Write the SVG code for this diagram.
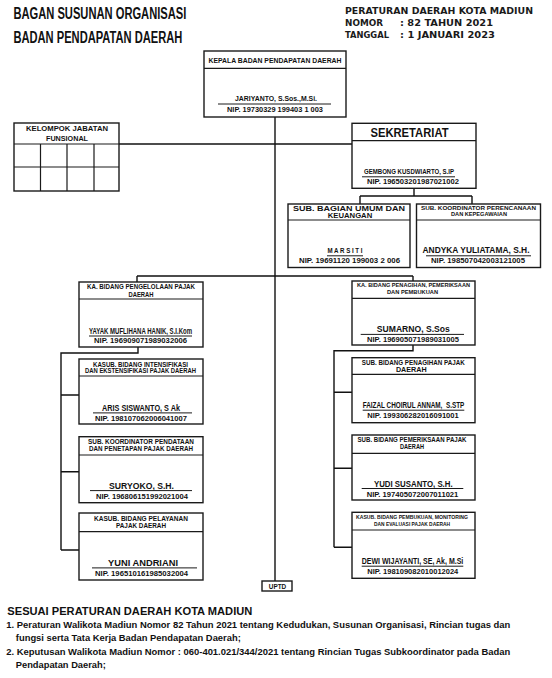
<svg xmlns="http://www.w3.org/2000/svg" width="552" height="678" viewBox="0 0 552 678">
<style>
  .bx{fill:#fff;stroke:#1a1a1a;stroke-width:1.4}
  .dv{stroke:#1a1a1a;stroke-width:1.2;fill:none}
  .ul{stroke:#1a1a1a;stroke-width:1}
  .cn{stroke:#111;stroke-width:1.4;fill:none}
  text{font-family:"Liberation Sans",Arial,sans-serif;font-weight:bold;fill:#111}
  .c{text-anchor:middle}
  .h{font-size:6.5px}
  .nm{font-size:9px}
  .nip{font-size:7.5px}
  .ttl{font-size:16px}
  .rh{font-family:"DejaVu Sans",Verdana,sans-serif;font-size:9.5px;fill:#1a1a1a}
  .ft{font-size:9px}
</style>
<rect width="552" height="678" fill="#fff"/>

<g id="titles">
  <text class="ttl" x="13.4" y="19" textLength="173" lengthAdjust="spacingAndGlyphs">BAGAN SUSUNAN ORGANISASI</text>
  <text class="ttl" x="13.4" y="43.3" textLength="169" lengthAdjust="spacingAndGlyphs">BADAN PENDAPATAN DAERAH</text>
  <text class="rh" x="345" y="14" textLength="188" lengthAdjust="spacingAndGlyphs">PERATURAN DAERAH KOTA MADIUN</text>
  <text class="rh" x="345" y="26" textLength="38" lengthAdjust="spacingAndGlyphs">NOMOR</text>
  <text class="rh" x="400" y="26" textLength="93" lengthAdjust="spacingAndGlyphs">: 82 TAHUN 2021</text>
  <text class="rh" x="345" y="38.3" textLength="44" lengthAdjust="spacingAndGlyphs">TANGGAL</text>
  <text class="rh" x="400" y="38.3" textLength="95" lengthAdjust="spacingAndGlyphs">: 1 JANUARI 2023</text>
</g>

<g id="connectors">
  <path class="cn" d="M275 117 V581"/>
  <path class="cn" d="M119 144 H352"/>
  <path class="cn" d="M414 188 V196 M360 196 H472 M360 196 V204 M472 196 V204"/>
  <path class="cn" d="M137 276 H413 M137 276 V282 M413 276 V281"/>
  <path class="cn" d="M138 347 V353 H61 V550 M61 395 H79 M61 471.7 H79 M61 550 H79"/>
  <path class="cn" d="M413 345 V350.7 H334 V547.3 M334 392.3 H352 M334 468.3 H352 M334 547.3 H352"/>
</g>

<g id="kepala">
  <rect class="bx" x="204" y="51" width="142" height="66"/>
  <path class="dv" d="M204 68.3 H346"/>
  <text class="c" x="275" y="63.3" font-size="7.5" textLength="133" lengthAdjust="spacingAndGlyphs">KEPALA BADAN PENDAPATAN DAERAH</text>
  <text class="c" x="276" y="100.7" font-size="8" textLength="82" lengthAdjust="spacingAndGlyphs">JARIYANTO, S.Sos.,M.Si.</text>
  <line class="ul" x1="218" y1="104" x2="331" y2="104"/>
  <text class="c nip" x="275" y="112.3" textLength="96" lengthAdjust="spacingAndGlyphs">NIP. 19730329 199403 1 003</text>
</g>

<g id="kelompok">
  <rect class="bx" x="14" y="123" width="105" height="68"/>
  <path class="dv" d="M14 144 H119 M14 167 H119 M40.5 144 V191 M67 144 V191 M94 144 V191"/>
  <text class="c" x="67" y="130.7" font-size="7.5" textLength="82" lengthAdjust="spacingAndGlyphs">KELOMPOK JABATAN</text>
  <text class="c" x="67" y="140.7" font-size="7.5" textLength="42" lengthAdjust="spacingAndGlyphs">FUNSIONAL</text>
</g>

<g id="sekretariat">
  <rect class="bx" x="352" y="123.3" width="124" height="65"/>
  <path class="dv" d="M352 140.7 H476"/>
  <text class="c" x="409.5" y="136.7" font-size="12.5" textLength="78" lengthAdjust="spacingAndGlyphs">SEKRETARIAT</text>
  <text class="c" x="409" y="174.3" font-size="8" textLength="90" lengthAdjust="spacingAndGlyphs">GEMBONG KUSDWIARTO, S.IP</text>
  <line class="ul" x1="362" y1="176.8" x2="455" y2="176.8"/>
  <text class="c nip" x="413" y="184" textLength="92" lengthAdjust="spacingAndGlyphs">NIP. 196503201987021002</text>
</g>

<g id="sub-umum">
  <rect class="bx" x="288" y="204" width="122" height="63.5"/>
  <path class="dv" d="M288 220 H410"/>
  <text class="c" x="349" y="210.7" font-size="7" textLength="112" lengthAdjust="spacingAndGlyphs">SUB. BAGIAN UMUM DAN</text>
  <text class="c" x="350" y="217.7" font-size="7" textLength="44.5" lengthAdjust="spacingAndGlyphs">KEUANGAN</text>
  <text class="c" x="345" y="253.3" font-size="8" textLength="35" lengthAdjust="spacingAndGlyphs">M A R S I T I</text>
  <line class="ul" x1="327" y1="255.8" x2="363" y2="255.8"/>
  <text class="c nip" x="349.5" y="262.7" textLength="101" lengthAdjust="spacingAndGlyphs">NIP. 19691120 199003 2 006</text>
</g>

<g id="sub-perencanaan">
  <rect class="bx" x="416.5" y="204" width="124" height="63.5"/>
  <path class="dv" d="M416.5 220 H540.5"/>
  <text class="c" x="478.5" y="209.8" font-size="6" textLength="115" lengthAdjust="spacingAndGlyphs">SUB. KOORDINATOR PERENCANAAN</text>
  <text class="c" x="479" y="216.3" font-size="6" textLength="56" lengthAdjust="spacingAndGlyphs">DAN KEPEGAWAIAN</text>
  <text class="c" x="476" y="253.3" font-size="8.5" textLength="107" lengthAdjust="spacingAndGlyphs">ANDYKA YULIATAMA, S.H.</text>
  <line class="ul" x1="426" y1="255.8" x2="531" y2="255.8"/>
  <text class="c nip" x="478" y="262.7" textLength="94" lengthAdjust="spacingAndGlyphs">NIP. 198507042003121005</text>
</g>

<g id="bidang-pengelolaan">
  <rect class="bx" x="79" y="282" width="124" height="65"/>
  <path class="dv" d="M79 299 H203"/>
  <text class="c h" x="141" y="289" textLength="108" lengthAdjust="spacingAndGlyphs">KA. BIDANG PENGELOLAAN PAJAK</text>
  <text class="c h" x="141" y="296.7" textLength="25" lengthAdjust="spacingAndGlyphs">DAERAH</text>
  <text class="c" x="140.5" y="334" font-size="8.5" textLength="103" lengthAdjust="spacingAndGlyphs">YAYAK MUFLIHANA HANIK, S.I.Kom</text>
  <line class="ul" x1="89" y1="336" x2="192" y2="336"/>
  <text class="c nip" x="140.5" y="343.3" textLength="93" lengthAdjust="spacingAndGlyphs">NIP. 196909071989032006</text>
</g>

<g id="kasub-intensifikasi">
  <rect class="bx" x="79" y="359" width="124" height="65"/>
  <path class="dv" d="M79 376 H203"/>
  <text class="c h" x="140.5" y="366.7" textLength="95" lengthAdjust="spacingAndGlyphs">KASUB. BIDANG INTENSIFIKASI</text>
  <text class="c h" x="140.5" y="373.3" textLength="111" lengthAdjust="spacingAndGlyphs">DAN EKSTENSIFIKASI PAJAK DAERAH</text>
  <text class="c nm" x="141" y="410.7" textLength="78" lengthAdjust="spacingAndGlyphs">ARIS SISWANTO, S Ak</text>
  <line class="ul" x1="93" y1="412.9" x2="192" y2="412.9"/>
  <text class="c nip" x="141" y="420.7" textLength="92" lengthAdjust="spacingAndGlyphs">NIP. 198107062006041007</text>
</g>

<g id="sub-pendataan">
  <rect class="bx" x="79" y="436.7" width="124" height="66"/>
  <path class="dv" d="M79 455 H203"/>
  <text class="c h" x="141" y="444" textLength="106" lengthAdjust="spacingAndGlyphs">SUB. KOORDINATOR PENDATAAN</text>
  <text class="c h" x="141" y="451" textLength="104" lengthAdjust="spacingAndGlyphs">DAN PENETAPAN PAJAK DAERAH</text>
  <text class="c" x="141.5" y="489" font-size="9.5" textLength="65" lengthAdjust="spacingAndGlyphs">SURYOKO, S.H.</text>
  <line class="ul" x1="90" y1="490.6" x2="192" y2="490.6"/>
  <text class="c nip" x="142" y="499" textLength="92" lengthAdjust="spacingAndGlyphs">NIP. 196806151992021004</text>
</g>

<g id="kasub-pelayanan">
  <rect class="bx" x="79" y="513" width="124" height="67"/>
  <path class="dv" d="M79 531.7 H203"/>
  <text class="c h" x="141" y="521" textLength="94" lengthAdjust="spacingAndGlyphs">KASUB. BIDANG PELAYANAN</text>
  <text class="c h" x="141" y="528.3" textLength="50" lengthAdjust="spacingAndGlyphs">PAJAK DAERAH</text>
  <text class="c" x="143" y="565.7" font-size="9.5" textLength="70" lengthAdjust="spacingAndGlyphs">YUNI ANDRIANI</text>
  <line class="ul" x1="92" y1="567.9" x2="197" y2="567.9"/>
  <text class="c nip" x="141.5" y="575.7" textLength="93" lengthAdjust="spacingAndGlyphs">NIP. 196510161985032004</text>
</g>

<g id="bidang-penagihan">
  <rect class="bx" x="352" y="281" width="123" height="64"/>
  <path class="dv" d="M352 298.3 H475"/>
  <text class="c" x="413.5" y="286.7" font-size="6" textLength="113" lengthAdjust="spacingAndGlyphs">KA. BIDANG PENAGIHAN, PEMERIKSAAN</text>
  <text class="c" x="412.5" y="294" font-size="6" textLength="51" lengthAdjust="spacingAndGlyphs">DAN PEMBUKUAN</text>
  <text class="c" x="413.3" y="332.3" font-size="9.5" textLength="73" lengthAdjust="spacingAndGlyphs">SUMARNO, S.Sos</text>
  <line class="ul" x1="360.7" y1="334.4" x2="464" y2="334.4"/>
  <text class="c nip" x="413" y="342.3" textLength="92" lengthAdjust="spacingAndGlyphs">NIP. 196905071989031005</text>
</g>

<g id="sub-penagihan">
  <rect class="bx" x="352" y="357.7" width="123" height="65"/>
  <path class="dv" d="M352 374.3 H475"/>
  <text class="c h" x="413.3" y="365" textLength="103" lengthAdjust="spacingAndGlyphs">SUB. BIDANG PENAGIHAN PAJAK</text>
  <text class="c h" x="411.3" y="372" textLength="30.7" lengthAdjust="spacingAndGlyphs">DAERAH</text>
  <text class="c" x="413.5" y="408.3" font-size="8.5" textLength="101.6" lengthAdjust="spacingAndGlyphs" xml:space="preserve">FAIZAL CHOIRUL ANNAM,  S.STP</text>
  <line class="ul" x1="362.7" y1="410.2" x2="464.3" y2="410.2"/>
  <text class="c nip" x="413" y="418.3" textLength="91.4" lengthAdjust="spacingAndGlyphs">NIP. 199306282016091001</text>
</g>

<g id="sub-pemeriksaan">
  <rect class="bx" x="352" y="435" width="123" height="65"/>
  <path class="dv" d="M352 453.3 H475"/>
  <text class="c h" x="412" y="441.7" textLength="109" lengthAdjust="spacingAndGlyphs">SUB. BIDANG PEMERIKSAAN PAJAK</text>
  <text class="c h" x="412" y="449" textLength="24" lengthAdjust="spacingAndGlyphs">DAERAH</text>
  <text class="c" x="413.3" y="486.7" font-size="9.5" textLength="78.7" lengthAdjust="spacingAndGlyphs">YUDI SUSANTO, S.H.</text>
  <line class="ul" x1="361.7" y1="488.5" x2="463.3" y2="488.5"/>
  <text class="c nip" x="412.5" y="497.3" textLength="91.7" lengthAdjust="spacingAndGlyphs">NIP. 197405072007011021</text>
</g>

<g id="kasub-pembukuan">
  <rect class="bx" x="352" y="512.3" width="123" height="66"/>
  <path class="dv" d="M352 530 H475"/>
  <text class="c" x="412" y="519.3" font-size="5.5" textLength="112" lengthAdjust="spacingAndGlyphs">KASUB. BIDANG PEMBUKUAN, MONITORING</text>
  <text class="c" x="412" y="526" font-size="5.5" textLength="76" lengthAdjust="spacingAndGlyphs">DAN EVALUASI PAJAK DAERAH</text>
  <text class="c nm" x="412.5" y="564.3" textLength="101.6" lengthAdjust="spacingAndGlyphs">DEWI WIJAYANTI, SE, Ak, M.Si</text>
  <line class="ul" x1="361.7" y1="566.2" x2="463.3" y2="566.2"/>
  <text class="c nip" x="412.8" y="574" textLength="91" lengthAdjust="spacingAndGlyphs">NIP. 198109082010012024</text>
</g>

<g id="uptd">
  <rect class="bx" x="262" y="581" width="30" height="10" stroke-width="1.2"/>
  <text class="c" x="277.5" y="589" font-size="6.5" textLength="17.5" lengthAdjust="spacingAndGlyphs">UPTD</text>
</g>

<g id="footer">
  <text x="7.3" y="615.3" font-size="11" textLength="245" lengthAdjust="spacingAndGlyphs">SESUAI PERATURAN DAERAH KOTA MADIUN</text>
  <text class="ft" x="6.3" y="627.5" textLength="504" lengthAdjust="spacingAndGlyphs">1. Peraturan Walikota Madiun Nomor 82 Tahun 2021 tentang Kedudukan, Susunan Organisasi, Rincian tugas dan</text>
  <text class="ft" x="15.8" y="641" textLength="225" lengthAdjust="spacingAndGlyphs">fungsi serta Tata Kerja Badan Pendapatan Daerah;</text>
  <text class="ft" x="6.3" y="654.5" textLength="504" lengthAdjust="spacingAndGlyphs">2. Keputusan Walikota Madiun Nomor : 060-401.021/344/2021 tentang Rincian Tugas Subkoordinator pada Badan</text>
  <text class="ft" x="15.8" y="668" textLength="90" lengthAdjust="spacingAndGlyphs">Pendapatan Daerah;</text>
</g>
</svg>
